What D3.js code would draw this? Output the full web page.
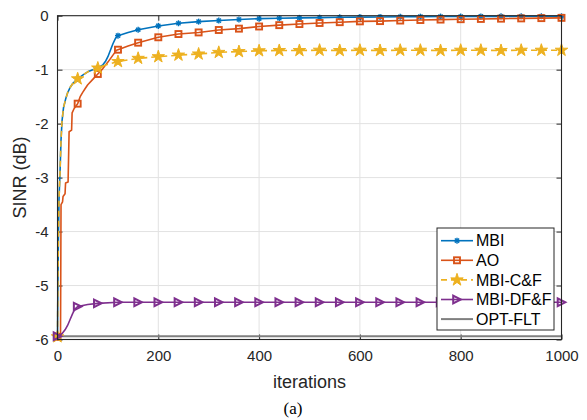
<!DOCTYPE html>
<html>
<head>
<meta charset="utf-8">
<script src="https://cdn.jsdelivr.net/npm/d3@7"></script>
<style>
  html, body { margin: 0; padding: 0; background: #fff; }
  svg { display: block; font-family: "Liberation Sans", Arial, Helvetica, sans-serif; }
</style>
</head>
<body>
<svg id="chart" width="587" height="420"></svg>
<script>
// SINR convergence of the compared schemes versus iteration count

const xTicks = [0, 200, 400, 600, 800, 1000];
const yTicks = [0, -1, -2, -3, -4, -5, -6];

// MBI
const mbiIter = [0, 1, 2, 3, 5, 7, 9, 12, 16, 20, 25, 30, 40, 50, 60, 70, 80, 90, 95, 100, 105, 110, 115, 120, 140, 160, 200, 240, 280, 320, 360, 400, 440, 480, 520, 560, 600, 640, 680, 720, 760, 800, 840, 880, 920, 960, 1000];
const mbiVal  = [-5.95, -4.8, -4.0, -3.4, -2.9, -2.3, -1.95, -1.7, -1.55, -1.43, -1.33, -1.26, -1.17, -1.1, -1.04, -1.0, -0.97, -0.91, -0.85, -0.76, -0.64, -0.52, -0.42, -0.37, -0.31, -0.26, -0.19, -0.14, -0.11, -0.09, -0.07, -0.055, -0.047, -0.04, -0.035, -0.03, -0.026, -0.023, -0.02, -0.018, -0.016, -0.015, -0.013, -0.012, -0.011, -0.01, -0.01];

// AO
const aoIter = [0, 6, 7, 10, 11, 15, 16, 21, 23, 28, 29, 33, 37, 40, 45, 50, 55, 60, 70, 80, 90, 100, 110, 117, 120, 140, 160, 200, 240, 280, 320, 360, 400, 440, 480, 520, 560, 600, 640, 680, 720, 760, 800, 840, 880, 920, 960, 1000];
const aoVal  = [-5.95, -5.94, -3.5, -3.45, -3.35, -3.3, -3.1, -3.08, -2.15, -2.12, -1.8, -1.72, -1.67, -1.63, -1.5, -1.42, -1.35, -1.28, -1.18, -1.08, -0.98, -0.86, -0.73, -0.64, -0.63, -0.56, -0.5, -0.4, -0.34, -0.31, -0.265, -0.24, -0.2, -0.175, -0.155, -0.135, -0.12, -0.105, -0.1, -0.09, -0.08, -0.072, -0.065, -0.06, -0.055, -0.05, -0.045, -0.04];

// MBI-C&F
const cfIter = [0, 1, 2, 3, 5, 7, 9, 12, 16, 20, 25, 30, 40, 50, 60, 70, 80, 90, 100, 120, 160, 200, 240, 280, 320, 360, 400, 440, 480, 520, 560, 600, 640, 680, 720, 760, 800, 840, 880, 920, 960, 1000];
const cfVal  = [-5.95, -4.8, -4.0, -3.4, -2.9, -2.3, -1.95, -1.7, -1.55, -1.43, -1.33, -1.26, -1.17, -1.1, -1.04, -1.0, -0.97, -0.93, -0.9, -0.85, -0.79, -0.76, -0.73, -0.71, -0.68, -0.665, -0.65, -0.645, -0.645, -0.64, -0.645, -0.64, -0.645, -0.64, -0.64, -0.645, -0.64, -0.64, -0.645, -0.64, -0.64, -0.64];

// MBI-DF&F
const dfIter = [0, 5, 10, 15, 20, 25, 30, 35, 40, 60, 80, 120, 160, 200, 240, 280, 320, 360, 400, 440, 480, 520, 560, 600, 640, 680, 720, 760, 800, 840, 880, 920, 960, 1000];
const dfVal  = [-5.94, -5.92, -5.88, -5.82, -5.74, -5.63, -5.52, -5.43, -5.39, -5.35, -5.33, -5.31, -5.31, -5.31, -5.31, -5.31, -5.31, -5.31, -5.31, -5.31, -5.31, -5.31, -5.31, -5.31, -5.31, -5.31, -5.31, -5.31, -5.31, -5.31, -5.31, -5.31, -5.31, -5.31];

// OPT-FLT
const optIter = [0, 1000];
const optVal  = [-5.94, -5.94];

const markerStep = 40;

const svg = d3.select("#chart");
const plot = { left: 57.5, right: 561.5, top: 15.7, bottom: 339.5 };

const x = d3.scaleLinear().domain([0, 1000]).range([plot.left, plot.right]);
const y = d3.scaleLinear().domain([-6, 0]).range([plot.bottom, plot.top]);

const axisColor = "#262626";

// grid
const grid = svg.append("g");
grid.selectAll("line.gx").data(xTicks.slice(1, -1)).join("line")
  .attr("x1", d => x(d)).attr("x2", d => x(d))
  .attr("y1", plot.top).attr("y2", plot.bottom)
  .attr("stroke", "#e2e2e2").attr("stroke-width", 1);
grid.selectAll("line.gy").data(yTicks.slice(1, -1)).join("line")
  .attr("x1", plot.left).attr("x2", plot.right)
  .attr("y1", d => y(d)).attr("y2", d => y(d))
  .attr("stroke", "#e2e2e2").attr("stroke-width", 1);

// axes (ticks point inward, box on)
const tickLen = 5;
const fontSize = 15;
const xAxis = d3.axisBottom(x).tickValues(xTicks).tickFormat(d3.format("d"))
  .tickSize(-tickLen).tickPadding(tickLen + 6).tickSizeOuter(0);
const yAxis = d3.axisLeft(y).tickValues(yTicks).tickFormat(d => d === 0 ? "0" : "-" + Math.abs(d))
  .tickSize(-tickLen).tickPadding(tickLen + 4).tickSizeOuter(0);
const xTop = d3.axisTop(x).tickValues(xTicks).tickSize(-tickLen).tickFormat("").tickSizeOuter(0);
const yRight = d3.axisRight(y).tickValues(yTicks).tickSize(-tickLen).tickFormat("").tickSizeOuter(0);

function styleAxis(g) {
  g.select(".domain").remove();
  g.selectAll(".tick line").attr("stroke", axisColor).attr("stroke-width", 1);
  g.selectAll(".tick text").attr("fill", axisColor).attr("font-size", fontSize)
    .attr("font-family", '"Liberation Sans", Arial, Helvetica, sans-serif');
}
svg.append("g").attr("transform", `translate(0,${plot.bottom})`).call(xAxis).call(styleAxis);
svg.append("g").attr("transform", `translate(${plot.left},0)`).call(yAxis).call(styleAxis);
svg.append("g").attr("transform", `translate(0,${plot.top})`).call(xTop).call(styleAxis);
svg.append("g").attr("transform", `translate(${plot.right},0)`).call(yRight).call(styleAxis);

// series
const series = [
  { name: "MBI", iter: mbiIter, val: mbiVal, color: "#0072BD", dash: null, marker: "asterisk" },
  { name: "AO", iter: aoIter, val: aoVal, color: "#D95319", dash: null, marker: "square" },
  { name: "MBI-C&F", iter: cfIter, val: cfVal, color: "#EDB120", dash: "6,4", marker: "star" },
  { name: "MBI-DF&F", iter: dfIter, val: dfVal, color: "#7E2F8E", dash: null, marker: "triangle" },
  { name: "OPT-FLT", iter: optIter, val: optVal, color: "#7f7f7f", dash: null, marker: null, width: 2 }
];

const line = d3.line().x(d => x(d[0])).y(d => y(d[1]));

const lines = svg.append("g");

function drawMarker(g, type, cx, cy, color) {
  if (type === "asterisk") {
    const r = 3;
    const p = [[-r, 0, r, 0], [0, -r, 0, r], [-r * 0.7, -r * 0.7, r * 0.7, r * 0.7], [-r * 0.7, r * 0.7, r * 0.7, -r * 0.7]];
    p.forEach(s => g.append("line")
      .attr("x1", cx + s[0]).attr("y1", cy + s[1]).attr("x2", cx + s[2]).attr("y2", cy + s[3])
      .attr("stroke", color).attr("stroke-width", 1.4));
  } else if (type === "square") {
    g.append("rect").attr("x", cx - 3).attr("y", cy - 3).attr("width", 6).attr("height", 6)
      .attr("fill", "none").attr("stroke", color).attr("stroke-width", 1.9);
  } else if (type === "star") {
    g.append("path").attr("d", d3.symbol(d3.symbolStar, 48)())
      .attr("transform", `translate(${cx},${cy})`)
      .attr("fill", color).attr("stroke", color).attr("stroke-width", 1);
  } else if (type === "triangle") {
    const s = 3.8;
    g.append("path").attr("d", `M${cx - s},${cy - s}L${cx + s},${cy}L${cx - s},${cy + s}Z`)
      .attr("fill", "none").attr("stroke", color).attr("stroke-width", 2).attr("stroke-linejoin", "miter");
  }
}

// draw order: OPT-FLT first at bottom, then MBI, AO, MBI-C&F, MBI-DF&F
const order = [4, 0, 1, 2, 3];
order.forEach(i => {
  const s = series[i];
  const pts = s.iter.map((t, k) => [t, s.val[k]]);
  const g = lines.append("g");
  g.append("path").datum(pts).attr("d", line)
    .attr("fill", "none").attr("stroke", s.color).attr("stroke-width", s.width || 1.6)
    .attr("stroke-dasharray", s.dash).attr("stroke-linejoin", "round");
  if (s.marker) {
    pts.filter(p => p[0] % markerStep === 0).forEach(p =>
      drawMarker(g, s.marker, x(p[0]), y(p[1]), s.color));
  }
});

// box
svg.append("rect").attr("x", plot.left).attr("y", plot.top)
  .attr("width", plot.right - plot.left).attr("height", plot.bottom - plot.top)
  .attr("fill", "none").attr("stroke", axisColor).attr("stroke-width", 1.1);

// legend
const lg = svg.append("g");
const lx = 437, ly = 228, lw = 117, lh = 102;
lg.append("rect").attr("x", lx).attr("y", ly).attr("width", lw).attr("height", lh)
  .attr("fill", "#fff").attr("stroke", axisColor).attr("stroke-width", 1);
series.forEach((s, k) => {
  const cy = ly + 12.7 + k * 19.6;
  lg.append("line").attr("x1", lx + 4).attr("x2", lx + 36).attr("y1", cy).attr("y2", cy)
    .attr("stroke", s.color).attr("stroke-width", s.width || 1.6).attr("stroke-dasharray", s.dash);
  if (s.marker) drawMarker(lg, s.marker, lx + 20, cy, s.color);
  lg.append("text").attr("x", lx + 39).attr("y", cy).attr("dy", "0.36em")
    .attr("font-size", 16).attr("fill", "#000").text(s.name);
});

// axis labels
svg.append("text").attr("x", (plot.left + plot.right) / 2).attr("y", 388)
  .attr("text-anchor", "middle").attr("font-size", 18).attr("fill", axisColor).text("iterations");
svg.append("text").attr("transform", `translate(26,${(plot.top + plot.bottom) / 2}) rotate(-90)`)
  .attr("text-anchor", "middle").attr("font-size", 18).attr("fill", axisColor).text("SINR (dB)");

// caption
svg.append("text").attr("x", 293).attr("y", 414).attr("text-anchor", "middle")
  .attr("font-family", '"Liberation Serif", "Times New Roman", serif')
  .attr("font-size", 17).attr("fill", "#000").text("(a)");
</script>
</body>
</html>
